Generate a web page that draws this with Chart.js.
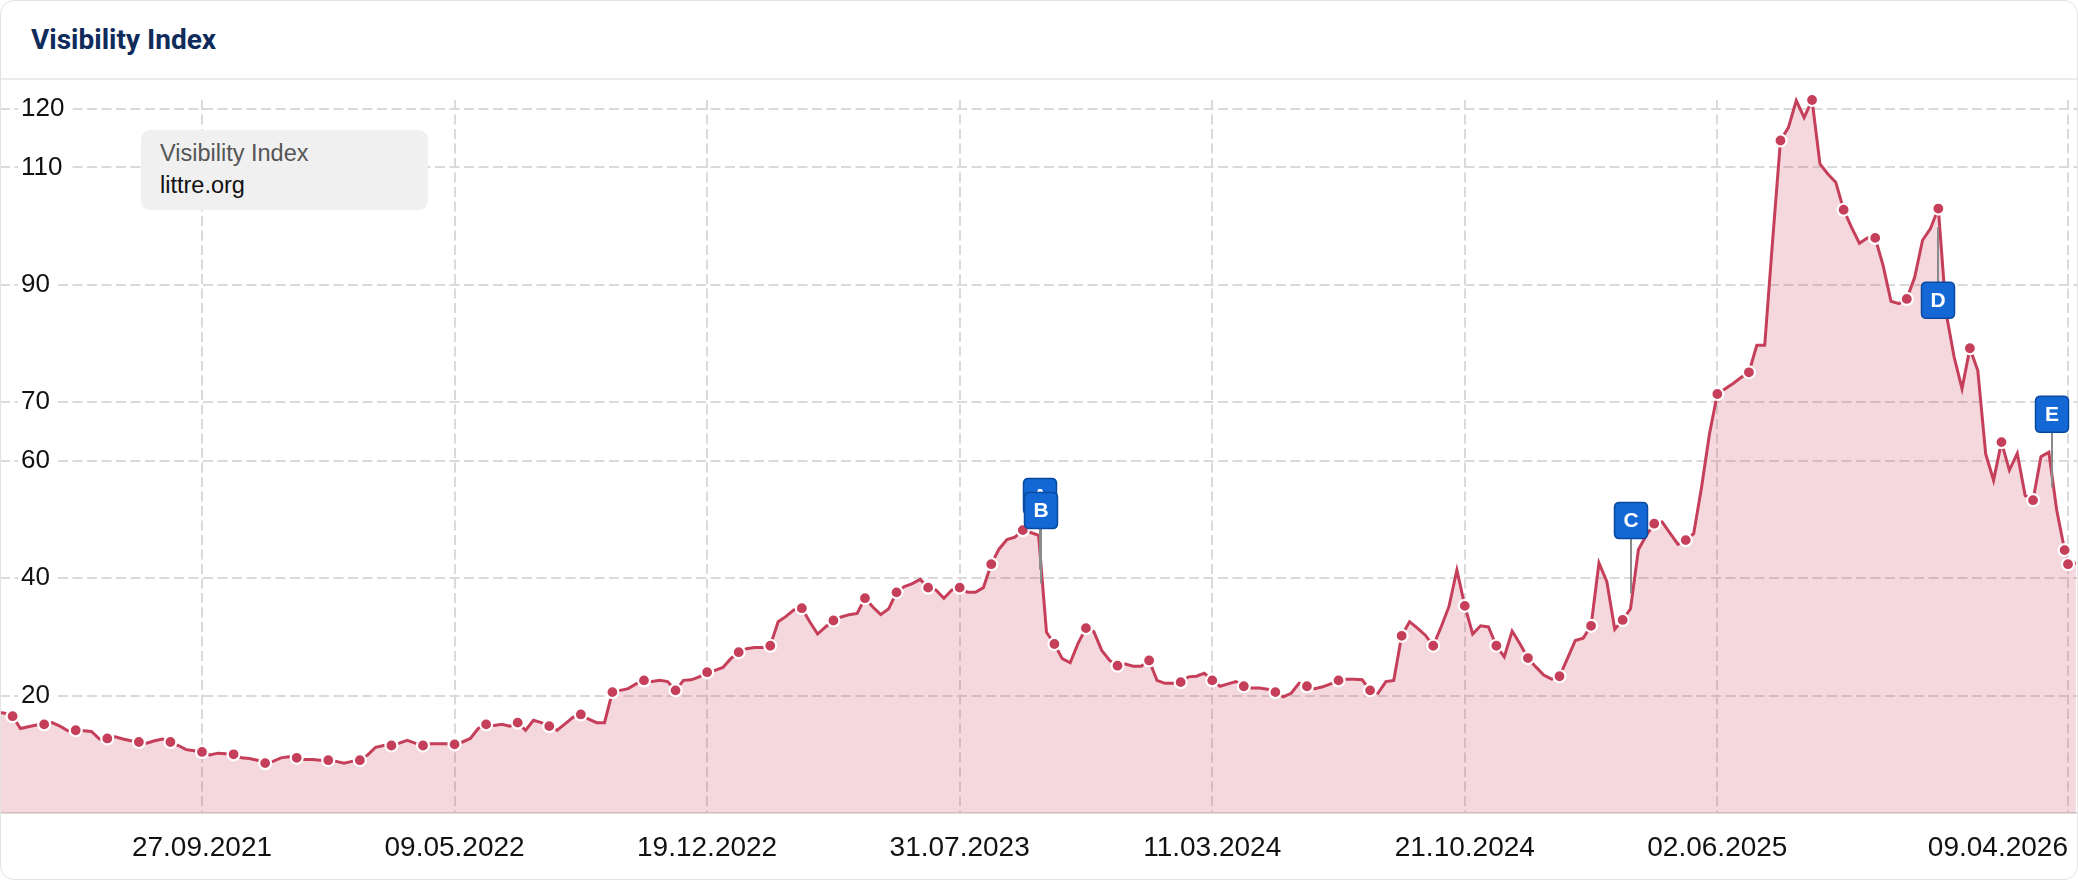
<!DOCTYPE html>
<html>
<head>
<meta charset="utf-8">
<script src="https://cdn.jsdelivr.net/npm/chart.js@4.4.1/dist/chart.umd.min.js"></script>
<style>
html,body{margin:0;padding:0;background:#fff;}
#card{position:relative;width:2078px;height:880px;overflow:hidden;background:#fff;}
#frame{position:absolute;left:0;top:0;width:2076px;height:878px;border:1px solid #e3e3e3;border-radius:14px;pointer-events:none;z-index:5;}
#title{position:absolute;left:31px;top:23px;font-family:Roboto,'Liberation Sans',sans-serif;font-weight:700;font-size:28px;line-height:normal;color:#0f2b5b;white-space:nowrap;}
#sep{position:absolute;left:0;top:78px;width:2078px;height:2px;background:#ebebeb;}
#chart{position:absolute;left:0;top:80px;}
#legend{position:absolute;left:141px;top:130px;width:287px;height:80px;background:#f0f0f0;border-radius:9px;z-index:3;font-family:'Liberation Sans',Arial,Helvetica,sans-serif;font-size:23.5px;line-height:normal;}
#legend .l1{position:absolute;left:19px;top:10px;color:#555;white-space:nowrap;}
#legend .l2{position:absolute;left:19px;top:42px;color:#111;white-space:nowrap;}
</style>
</head>
<body>
<div id="card">
  <div id="title">Visibility Index</div>
  <div id="sep"></div>
  <canvas id="chart" width="2078" height="800"></canvas>
  <div id="legend"><div class="l1">Visibility Index</div><div class="l2">littre.org</div></div>
  <div id="frame"></div>
</div>
<script>
// ---------- DATA ----------
const seriesName = 'Visibility Index';
const domainName = 'littre.org';
const weekStart = '2021-03-29';   // weekly values, one per Monday
const values2021 = [17.2,17.0,16.5,14.4,14.7,15.0,15.1,15.4,14.8,14.0,
  14.1,14.0,13.9,12.6,12.7,13.0,12.6,12.3,12.1,11.9,
  12.3,12.6,12.1,11.5,10.8,10.6,10.4,9.9,10.2,10.1,
  10.0,9.4,9.3,9.0,8.5,8.8,9.4,9.6,9.4,9.1];
const values2022 = [9.1,9.0,9.0,8.8,8.5,8.8,9.0,9.9,11.2,11.5,
  11.5,11.9,12.4,11.9,11.5,11.8,11.8,11.8,11.7,12.1,
  12.7,14.4,15.1,14.9,15.1,14.8,15.4,14.1,15.8,15.4,
  14.8,14.1,15.2,16.3,16.8,16.0,15.4,15.4,20.6,20.9,
  21.2,22.0,22.6,22.4,22.6,22.4,20.9,22.6,22.7,23.2,
  24.0,24.3];
const values2023 = [24.8,26.3,27.4,28.0,28.2,28.2,28.5,32.6,33.5,34.6,
  34.9,32.6,30.5,31.7,32.8,33.4,33.8,34.0,36.6,35.1,
  33.8,34.8,37.6,38.6,39.1,39.8,38.4,38.0,36.6,38.0,
  38.4,37.6,37.6,38.4,42.4,45.0,46.6,47.0,48.2,47.8,
  47.3,30.8,28.8,26.3,25.6,28.9,31.5,30.9,27.7,26.0,
  25.1,25.4];
const values2024 = [25.0,25.0,26.0,22.6,22.1,22.1,22.3,23.2,23.3,23.8,
  22.6,21.6,22.0,22.4,21.6,21.3,21.3,21.1,20.6,19.8,
  20.4,22.1,21.6,21.2,21.5,22.0,22.6,22.8,22.8,22.7,
  20.9,20.4,22.4,22.6,30.2,32.6,31.5,30.3,28.5,31.7,
  35.2,41.4,35.3,30.5,31.9,31.7,28.5,26.6,31.0,28.8,
  26.4,24.9,23.5];
const values2025 = [22.8,23.3,26.3,29.4,29.8,31.9,42.6,39.4,31.3,32.9,
  34.8,44.9,47.3,49.3,49.6,47.7,45.8,46.5,47.6,55.5,
  64.6,71.4,72.3,73.2,74.2,75.1,79.7,79.7,97.5,114.6,
  116.8,121.4,118.5,121.5,110.6,108.9,107.5,102.8,99.8,97.1,
  98.0,98.0,93.3,87.2,86.8,87.6,91.3,97.6,99.6,103.0,
  85.1,77.7];
const values2026 = [72.3,79.2,75.4,61.2,56.7,63.2,58.4,61.3,54.1,53.3,
  60.7,61.5,51.6,44.8];
const tailDates  = ['2026-04-09','2026-04-16'];
const tailValues = [42.4,42.6];
const markedTailDates = ['2026-04-09'];

const xTickLabels = ['27.09.2021','09.05.2022','19.12.2022','31.07.2023','11.03.2024','21.10.2024','02.06.2025','09.04.2026'];
const yTickValues = [20,40,60,70,90,110,120];

const eventLetters = ['A','B','C','D','E'];
const eventDates   = ['2023-10-10','2023-10-11','2025-03-17','2025-12-15','2026-03-26'];
const eventValues  = [41.5,39.1,37.4,99.8,55.5];
const eventBelow   = [false,false,false,true,false];

// ---------- BUILD ----------
const DAY = 864e5;
const isoMs = s => { const [y,m,d] = s.split('-').map(Number); return Date.UTC(y, m-1, d); };
const dmyMs = s => { const [d,m,y] = s.split('.').map(Number); return Date.UTC(y, m-1, d); };

const weekly = [].concat(values2021, values2022, values2023, values2024, values2025, values2026);
const points = weekly.map((v, i) => ({x: isoMs(weekStart) + i * 7 * DAY, y: v, m: (i - 2) % 4 === 0}));
tailDates.forEach((d, i) => points.push({x: isoMs(d), y: tailValues[i], m: markedTailDates.includes(d)}));

const xTickValues = xTickLabels.map(dmyMs);
const xMin = xTickValues[0] - 179.16 * DAY;
const xMax = xTickValues[xTickValues.length - 1] + 8.87 * DAY;
const yMax = Math.max(...weekly, ...tailValues);

const LINE = '#c63f5a';
const GRID = '#dadada';
const FONTFAM = "'Liberation Sans', Arial, Helvetica, sans-serif";

function roundRect(ctx, x, y, w, h, r) {
  ctx.beginPath();
  ctx.moveTo(x + r, y);
  ctx.lineTo(x + w - r, y); ctx.quadraticCurveTo(x + w, y, x + w, y + r);
  ctx.lineTo(x + w, y + h - r); ctx.quadraticCurveTo(x + w, y + h, x + w - r, y + h);
  ctx.lineTo(x + r, y + h); ctx.quadraticCurveTo(x, y + h, x, y + h - r);
  ctx.lineTo(x, y + r); ctx.quadraticCurveTo(x, y, x + r, y);
  ctx.closePath();
}

const flagsPlugin = {
  id: 'flags',
  afterDatasetsDraw(chart) {
    const {ctx, scales: {x, y}} = chart;
    ctx.save();
    eventLetters.forEach((L, i) => {
      const px = Math.round(x.getPixelForValue(isoMs(eventDates[i])));
      const py = y.getPixelForValue(eventValues[i]);
      const dir = eventBelow[i] ? 1 : -1;
      const stemEnd = py + dir * 55;
      ctx.strokeStyle = '#8a8a8a';
      ctx.lineWidth = 2;
      ctx.beginPath(); ctx.moveTo(px, py); ctx.lineTo(px, stemEnd); ctx.stroke();
      const w = 33, h = 36;
      const top = eventBelow[i] ? stemEnd : stemEnd - h;
      roundRect(ctx, px - w / 2, top, w, h, 5);
      ctx.fillStyle = '#1468d6'; ctx.fill();
      ctx.lineWidth = 1.5; ctx.strokeStyle = '#0a4a9e'; ctx.stroke();
      ctx.fillStyle = '#ffffff';
      ctx.font = "bold 21px 'Liberation Sans', Arial, sans-serif";
      ctx.textAlign = 'center'; ctx.textBaseline = 'middle';
      ctx.fillText(L, px, top + h / 2 + 1);
    });
    ctx.restore();
  }
};

new Chart(document.getElementById('chart'), {
  type: 'line',
  data: {
    datasets: [{
      label: seriesName + ' ' + domainName,
      data: points,
      borderColor: LINE,
      borderWidth: 3,
      backgroundColor: 'rgba(200,60,90,0.2)',
      fill: 'origin',
      tension: 0,
      clip: false,
      pointRadius: c => (c.raw && c.raw.m) ? 6 : 0,
      pointHoverRadius: c => (c.raw && c.raw.m) ? 6 : 0,
      pointBackgroundColor: LINE,
      pointBorderColor: '#ffffff',
      pointBorderWidth: 2.2
    }]
  },
  options: {
    responsive: false,
    animation: false,
    devicePixelRatio: 1,
    events: [],
    layout: {padding: {top: 20, left: 0, right: 0, bottom: 0}},
    plugins: {legend: {display: false}, tooltip: {enabled: false}},
    scales: {
      x: {
        type: 'linear',
        min: xMin, max: xMax,
        afterBuildTicks: s => { s.ticks = [{value: xMin}].concat(xTickValues.map(v => ({value: v}))); },
        afterFit: s => { s.height = 67; s.paddingLeft = 0; s.paddingRight = 0; },
        grid: {color: c => c.index === 0 ? 'rgba(0,0,0,0)' : GRID, lineWidth: 2, drawTicks: false},
        border: {display: true, color: '#dddddd', width: 2, dash: [10, 4.5]},
        ticks: {
          align: 'inner', padding: 18, autoSkip: false, maxRotation: 0, minRotation: 0,
          font: {family: FONTFAM, size: 28}, color: '#111111',
          callback: (v, i) => i === 0 ? '' : xTickLabels[i - 1]
        }
      },
      y: {
        min: 0, max: yMax,
        afterBuildTicks: s => { s.ticks = yTickValues.map(v => ({value: v})); },
        afterFit: s => { s.width = 0; s.paddingTop = 0; s.paddingBottom = 0; },
        grid: {color: GRID, lineWidth: 2, drawTicks: false},
        border: {display: false, dash: [10, 4.5]},
        ticks: {
          mirror: true, padding: 21, autoSkip: false,
          font: {family: FONTFAM, size: 26}, color: '#111111',
          showLabelBackdrop: true, backdropColor: '#ffffff',
          backdropPadding: {left: 3, right: 8, top: 0, bottom: 0},
          callback: v => String(v)
        }
      }
    }
  },
  plugins: [flagsPlugin]
});
</script>
</body>
</html>
